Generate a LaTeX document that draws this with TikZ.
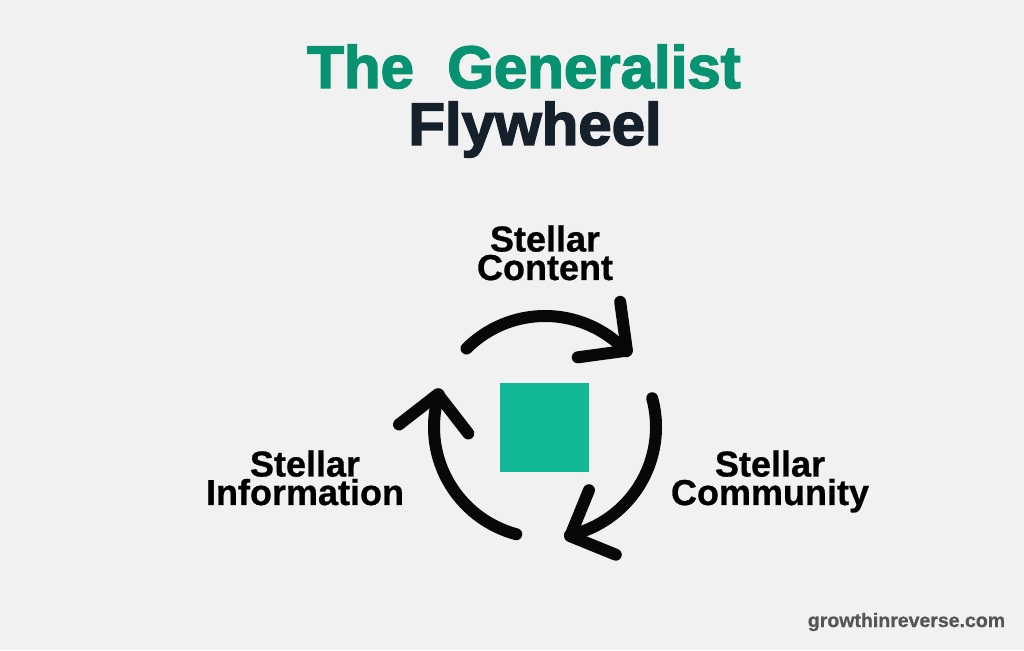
\documentclass[tikz,border=0pt]{standalone}
\usepackage{fontspec}
\setmainfont{Liberation Sans}
\newfontfamily\titlefont{Liberation Sans}[BoldFeatures={FakeBold=2.5}]
\newfontfamily\labelfont{Liberation Sans}[BoldFeatures={FakeBold=0.8}]
\definecolor{bg}{HTML}{F1F1F1}
\definecolor{titlegreen}{HTML}{079372}
\definecolor{titledark}{HTML}{16202B}
\definecolor{sqgreen}{RGB}{18,183,150}
\definecolor{footgrey}{HTML}{555555}
\begin{document}
\begin{tikzpicture}[x=1pt,y=1pt,
  ttl/.style={inner sep=0pt, anchor=base, font=\titlefont\fontsize{60}{60}\selectfont\bfseries},
  lbl/.style={inner sep=0pt, anchor=base, align=center, text=black, font=\labelfont\fontsize{36}{28.5}\selectfont\bfseries},
  wheel/.style={line width=12pt, line cap=round, line join=round, draw=black!97}]
\fill[bg] (0,0) rectangle (1024,650);
\useasboundingbox (0,0) rectangle (1024,650);
% title
\node[ttl, text=titlegreen] (t1) at (524,562) {The\ \ Generalist};
\node[ttl, text=titledark] (t2) at (535,505) {Flywheel};
% centre square
\coordinate (C) at (545,223);
\node[fill=sqgreen, minimum size=89pt, inner sep=0pt] (sq) at (544.5,222.5) {};
% arcs
\foreach \k in {0,1,2}{
  \begin{scope}[shift={(C)}, rotate=-120*\k]
    \draw[wheel] (135:111) arc[start angle=135, end angle=43, radius=111];
    \draw[wheel] (59:146) -- (43:112) -- (64.8:77);
  \end{scope}
}
% labels (anchor = baseline of last line)
\node[lbl] (content) at (545,370) {Stellar\\Content};
\node[lbl] (community) at (770,145) {Stellar\\Community};
\node[lbl] (information) at (305,145) {Stellar\\Information};
% footer
\node[inner sep=0pt, anchor=base, text=footgrey, font=\labelfont\fontsize{19.5}{19.5}\selectfont\bfseries] (ft) at (906.5,23) {growthinreverse.com};
\end{tikzpicture}
\end{document}
